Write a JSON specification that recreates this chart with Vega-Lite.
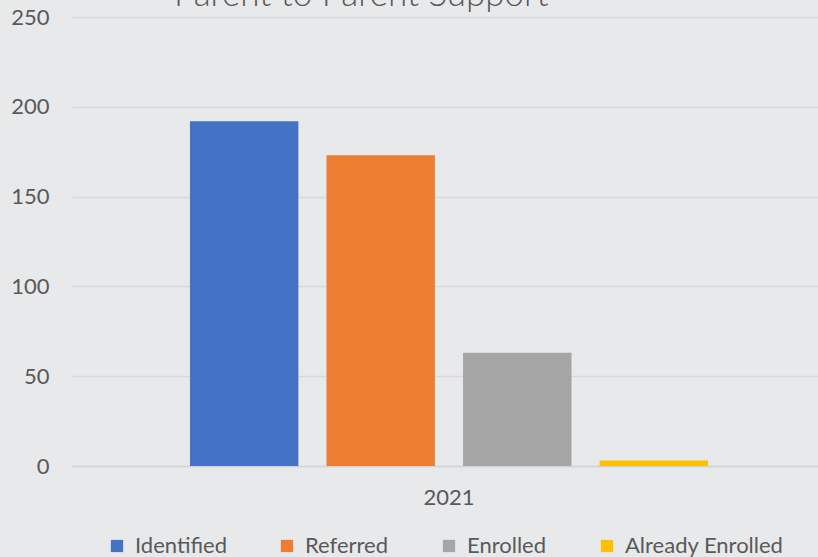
{
  "$schema": "https://vega.github.io/schema/vega-lite/v6.json",
  "autosize": "none",
  "width": 746,
  "height": 449,
  "padding": {"left": 72, "top": 17, "right": 0, "bottom": 91},
  "background": "#e8e9ea",
  "title": {
    "text": "Parent to Parent Support",
    "anchor": "start",
    "frame": "group",
    "dx": 102,
    "dy": 7,
    "offset": 0,
    "baseline": "top",
    "fontSize": 35,
    "fontWeight": 300,
    "font": "Lato",
    "color": "#595959"
  },
  "data": {
    "values": [
      {"year": "2021", "series": "Identified", "value": 192},
      {"year": "2021", "series": "Referred", "value": 173},
      {"year": "2021", "series": "Enrolled", "value": 63},
      {"year": "2021", "series": "Already Enrolled", "value": 3}
    ]
  },
  "mark": {"type": "bar"},
  "encoding": {
    "x": {
      "field": "year",
      "type": "nominal",
      "scale": {"paddingInner": 0, "paddingOuter": 0.22, "align": 0.5175},
      "axis": {
        "title": null,
        "labelAngle": 0,
        "labelFontSize": 22,
        "labelColor": "#595959",
        "labelPadding": 21,
        "ticks": false,
        "domain": true,
        "domainColor": "#d4d4d4",
        "domainWidth": 1.3
      }
    },
    "xOffset": {
      "field": "series",
      "type": "nominal",
      "sort": ["Identified", "Referred", "Enrolled", "Already Enrolled"],
      "scale": {"paddingInner": 0.206, "paddingOuter": 0}
    },
    "y": {
      "field": "value",
      "type": "quantitative",
      "scale": {"domain": [0, 250], "nice": false},
      "axis": {
        "title": null,
        "values": [0, 50, 100, 150, 200, 250],
        "grid": true,
        "gridColor": "#d9d9d9",
        "gridWidth": 1.3,
        "domain": false,
        "ticks": false,
        "labelPadding": 23,
        "labelFontSize": 22,
        "labelColor": "#595959"
      }
    },
    "color": {
      "field": "series",
      "type": "nominal",
      "sort": ["Identified", "Referred", "Enrolled", "Already Enrolled"],
      "scale": {
        "domain": ["Identified", "Referred", "Enrolled", "Already Enrolled"],
        "range": ["#4472C4", "#ED7D31", "#A5A5A5", "#FFC000"]
      },
      "legend": {
        "title": null,
        "orient": "none",
        "legendX": 34,
        "legendY": 518,
        "direction": "horizontal",
        "columns": 4,
        "symbolType": "square",
        "symbolSize": 150,
        "symbolStrokeWidth": 0,
        "labelFontSize": 22,
        "labelColor": "#595959",
        "labelOffset": 7,
        "columnPadding": 49
      }
    }
  },
  "config": {
    "font": "Lato",
    "view": {"stroke": null}
  }
}
